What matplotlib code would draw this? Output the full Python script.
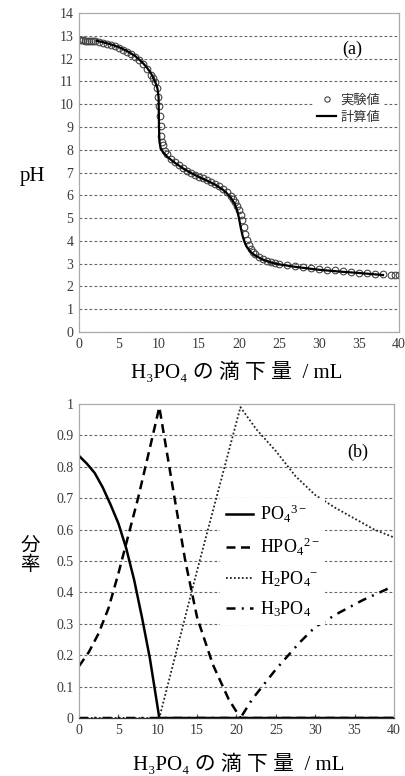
import numpy as np
import matplotlib
matplotlib.use("Agg")
from matplotlib import pyplot as plt

# (a) titration curve: experimental points and calculated curve
exp_ml = [0, 0.25, 0.5, 0.75, 1.0, 1.25, 1.5, 1.75, 2.0, 2.5, 3.0, 3.5, 4.0, 4.5,
          5.0, 5.5, 6.0, 6.5, 7.0, 7.5, 8.0, 8.5, 9.0, 9.25, 9.5, 9.75, 9.9, 10.0,
          10.1, 10.2, 10.3, 10.4, 10.5, 10.75, 11.0, 11.5, 12.0, 12.5, 13.0, 13.5,
          14.0, 14.5, 15.0, 15.5, 16.0, 16.5, 17.0, 17.5, 18.0, 18.5, 19.0, 19.25,
          19.5, 19.75, 20.0, 20.2, 20.4, 20.6, 20.8, 21.0, 21.25, 21.5, 21.75, 22.0,
          22.5, 23.0, 23.5, 24.0, 24.5, 25.0, 26, 27, 28, 29, 30, 31, 32, 33, 34,
          35, 36, 37, 38, 39, 39.5, 40]
exp_ph = [12.80, 12.80, 12.80, 12.79, 12.79, 12.78, 12.78, 12.77, 12.76, 12.74,
          12.70, 12.65, 12.60, 12.54, 12.47, 12.38, 12.30, 12.20, 12.08, 11.93,
          11.75, 11.55, 11.30, 11.15, 10.95, 10.70, 10.30, 9.90, 9.50, 9.05, 8.60,
          8.35, 8.20, 7.95, 7.80, 7.60, 7.45, 7.32, 7.20, 7.08, 6.98, 6.90, 6.82,
          6.74, 6.66, 6.58, 6.50, 6.40, 6.28, 6.13, 5.95, 5.85, 5.72, 5.55, 5.35,
          5.15, 4.90, 4.60, 4.30, 4.05, 3.82, 3.65, 3.52, 3.42, 3.30, 3.20, 3.12,
          3.06, 3.01, 2.97, 2.92, 2.88, 2.84, 2.80, 2.76, 2.73, 2.70, 2.67, 2.64,
          2.61, 2.58, 2.56, 2.53, 2.51, 2.50, 2.49]

calc_ml = [2.2, 3, 4, 5, 6, 7, 8, 8.5, 9, 9.5, 9.8, 9.95, 10.0, 10.05, 10.2, 10.5,
           11, 12, 13, 14, 15, 16, 17, 18, 18.5, 19, 19.5, 19.8, 20.0, 20.2, 20.5,
           20.8, 21, 21.5, 22, 23, 24, 25, 27, 30, 33, 35, 38]
calc_ph = [12.78, 12.72, 12.62, 12.50, 12.33, 12.12, 11.80, 11.60, 11.35, 11.00,
           10.70, 10.30, 9.00, 8.40, 8.05, 7.90, 7.70, 7.42, 7.18, 6.98, 6.80, 6.64,
           6.47, 6.24, 6.08, 5.88, 5.60, 5.30, 5.00, 4.60, 4.15, 3.85, 3.72, 3.50,
           3.36, 3.17, 3.05, 2.97, 2.86, 2.73, 2.64, 2.59, 2.50]

# (b) species fractions
po4_ml = [0, 1, 2, 3, 4, 5, 6, 7, 8, 9, 10.2, 20, 30, 40]
po4 = [0.835, 0.81, 0.78, 0.735, 0.68, 0.62, 0.54, 0.44, 0.32, 0.19, 0, 0, 0, 0]

hpo4_ml = [0, 1.25, 2.5, 3.75, 5, 6.25, 7.5, 9, 10.2, 12, 13.5, 15, 17, 19, 20.5,
           30, 40]
hpo4 = [0.165, 0.21, 0.27, 0.35, 0.46, 0.58, 0.70, 0.86, 0.99, 0.72, 0.50, 0.32,
        0.17, 0.06, 0, 0, 0]

h2po4_ml = [0, 10.2, 15, 20.5, 22.5, 25, 27.5, 30, 32.5, 35, 37.5, 40]
h2po4 = [0, 0, 0.47, 0.99, 0.92, 0.85, 0.77, 0.71, 0.67, 0.635, 0.60, 0.575]

h3po4_ml = [0, 20.5, 22, 25, 28, 30, 33, 36, 39.5]
h3po4 = [0, 0, 0.06, 0.155, 0.24, 0.29, 0.335, 0.375, 0.415]

serif = ['Liberation Serif', 'DejaVu Serif', 'Noto Sans CJK JP']
sans = ['Noto Sans CJK JP', 'DejaVu Sans']
plt.rcParams['font.family'] = serif
plt.rcParams['xtick.labelsize'] = 10
plt.rcParams['ytick.labelsize'] = 10
plt.rcParams['mathtext.fontset'] = 'custom'
plt.rcParams['mathtext.rm'] = 'Liberation Serif'
plt.rcParams['mathtext.it'] = 'Liberation Serif'

W, H = 406, 776
fig = plt.figure(figsize=(W / 100, H / 100), dpi=100)


def px_axes(l, t, r, b):
    return fig.add_axes([l / W, 1 - b / H, (r - l) / W, (b - t) / H])


def style_axes(ax):
    for s in ax.spines.values():
        s.set_color('#aaaaaa')
        s.set_linewidth(0.9)
    ax.tick_params(length=0, labelcolor='#3a3a3a', pad=4)
    ax.yaxis.grid(True, color='#666666', linestyle=(0, (2.5, 2)), linewidth=0.8)
    ax.set_axisbelow(True)


# ---- (a)
ax1 = px_axes(79, 13, 399, 332)
ax1.plot(exp_ml, exp_ph, 'o', ms=4.8, mfc='none', mec='#444444', mew=0.8,
         label='実験値')
ax1.plot(calc_ml, calc_ph, '-', color='black', lw=1.6, label='計算値')
ax1.set_xlim(0, 40)
ax1.set_ylim(0, 14)
ax1.set_xticks(range(0, 41, 5))
ax1.set_yticks(range(0, 15))
style_axes(ax1)
ax1.get_ygridlines()[-1].set_visible(False)
leg1 = ax1.legend(loc='upper right', bbox_to_anchor=(0.97, 0.775),
                  prop={'family': sans, 'size': 9.5}, frameon=True,
                  handlelength=1.5, handletextpad=0.3, borderpad=0.2,
                  labelspacing=0.3, fancybox=False, markerscale=0.8)
leg1.get_frame().set_edgecolor('none')
leg1.get_frame().set_facecolor('white')
leg1.get_frame().set_alpha(1)
for t in leg1.get_texts():
    t.set_color('#333333')
ax1.text(0.855, 0.885, '(a)', transform=ax1.transAxes, fontsize=13,
         ha='center', va='center')

# ---- (b)
ax2 = px_axes(79, 404, 394, 718)
ax2.plot(po4_ml, po4, '-', color='black', lw=1.8, label=r'PO$_4$$^{3-}$')
ax2.plot(hpo4_ml, hpo4, color='black', lw=1.8, linestyle=(0, (3.6, 2.2)),
         label=r'HPO$_4$$^{2-}$')
ax2.plot(h2po4_ml, h2po4, color='#222222', lw=1.3, linestyle=(0, (1, 1.2)),
         label=r'H$_2$PO$_4$$^{-}$')
ax2.plot(h3po4_ml, h3po4, color='black', lw=1.8,
         linestyle=(0, (3.6, 2.5, 0.8, 2.5)), label=r'H$_3$PO$_4$')
ax2.set_xlim(0, 40)
ax2.set_ylim(0, 1)
ax2.set_xticks(range(0, 41, 5))
yt = [0, 0.1, 0.2, 0.3, 0.4, 0.5, 0.6, 0.7, 0.8, 0.9, 1]
ax2.set_yticks(yt)
ax2.set_yticklabels(['0', '0.1', '0.2', '0.3', '0.4', '0.5', '0.6', '0.7',
                     '0.8', '0.9', '1'])
style_axes(ax2)
ax2.get_ygridlines()[-1].set_visible(False)
ax2.spines['bottom'].set_color('#333333')
ax2.tick_params(axis='x', direction='in', length=3, color='#555555')
leg2 = ax2.legend(loc='upper left', bbox_to_anchor=(0.42, 0.73),
                  prop={'family': serif, 'size': 13}, frameon=True,
                  handlelength=1.5, handletextpad=0.4, borderpad=0.3,
                  labelspacing=0.6, fancybox=False)
leg2.get_frame().set_edgecolor('none')
leg2.get_frame().set_facecolor('white')
leg2.get_frame().set_alpha(1)
ax2.text(0.885, 0.845, '(b)', transform=ax2.transAxes, fontsize=13,
         ha='center', va='center')

# axis labels
fig.text(32 / W, 1 - 176 / H, 'pH', fontsize=15, ha='center', va='center')
fig.text(30 / W, 1 - 556 / H, '分\n率', fontsize=14, ha='center', va='center',
         linespacing=1.1)
xlab = 'H₃PO₄ の 滴 下 量  / mL'
fig.text(237 / W, 1 - 372 / H, xlab, fontsize=15, ha='center', va='center')
fig.text(239 / W, 1 - 764 / H, xlab, fontsize=15, ha='center', va='center')

fig.savefig('out.png', dpi=100)
